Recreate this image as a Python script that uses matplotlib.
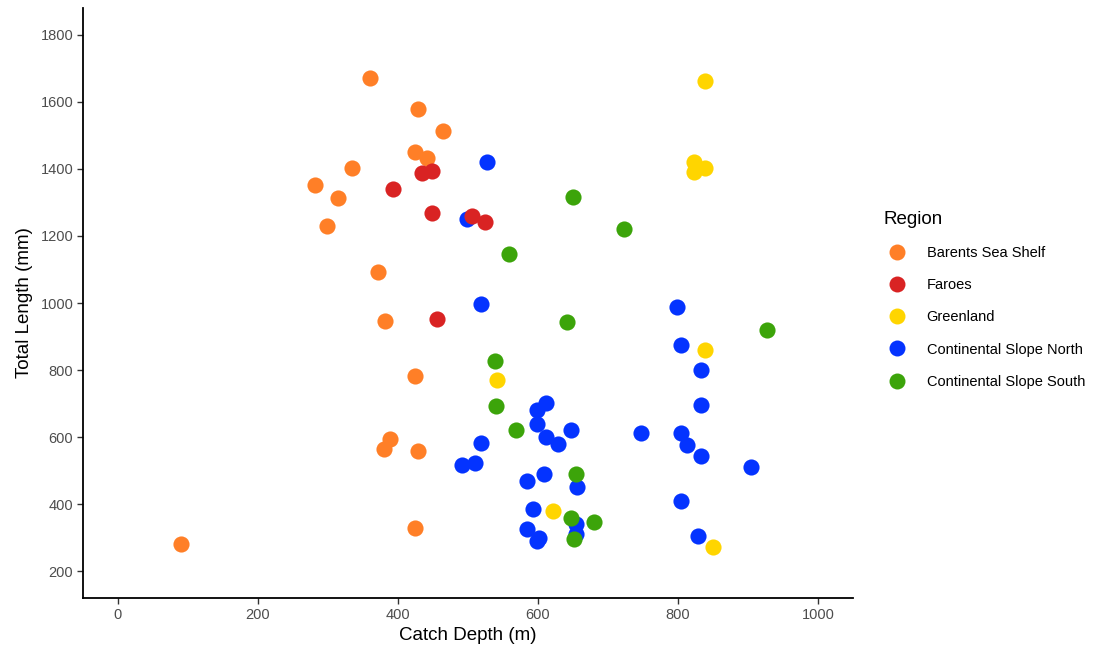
import matplotlib
matplotlib.use("Agg")
import matplotlib.pyplot as plt
from matplotlib.lines import Line2D

plt.rcParams['font.family'] = ['Liberation Sans', 'DejaVu Sans']

# Catch depth (m) and total length (mm) per region
barents_depth = [360, 429, 465, 425, 442, 335, 281, 315, 298, 371, 381, 425, 388, 380, 428, 424, 90]
barents_length = [1670, 1580, 1512, 1450, 1432, 1402, 1352, 1312, 1231, 1093, 946, 781, 595, 565, 560, 330, 280]

faroes_depth = [434, 448, 393, 448, 506, 524, 456]
faroes_length = [1387, 1395, 1339, 1268, 1260, 1242, 953]

greenland_depth = [838, 823, 838, 823, 838, 541, 622, 850]
greenland_length = [1661, 1422, 1402, 1392, 861, 770, 380, 271]

csn_depth = [527, 498, 518, 799, 804, 833, 833, 612, 598, 598, 647, 612, 629, 747, 805, 813,
             833, 905, 518, 510, 492, 585, 609, 656, 805, 593, 654, 654, 585, 602, 598, 829]
csn_length = [1422, 1251, 996, 987, 875, 801, 696, 701, 681, 639, 621, 601, 578, 611, 611, 577,
              545, 512, 581, 524, 516, 470, 490, 450, 408, 386, 340, 312, 325, 300, 289, 304]

css_depth = [650, 723, 559, 642, 927, 539, 540, 569, 654, 647, 680, 651]
css_length = [1315, 1221, 1145, 944, 920, 827, 692, 621, 490, 360, 348, 296]

regions = ["Barents Sea Shelf", "Faroes", "Greenland", "Continental Slope North", "Continental Slope South"]
colors = {"Barents Sea Shelf": "#FF7F27", "Faroes": "#D92323", "Greenland": "#FFD500",
          "Continental Slope North": "#0433FF", "Continental Slope South": "#3CA40A"}
data = {"Barents Sea Shelf": (barents_depth, barents_length),
        "Faroes": (faroes_depth, faroes_length),
        "Greenland": (greenland_depth, greenland_length),
        "Continental Slope North": (csn_depth, csn_length),
        "Continental Slope South": (css_depth, css_length)}

fig = plt.figure(figsize=(11.05, 6.5), dpi=100)
ax = fig.add_axes([83 / 1105, 1 - 598 / 650, (853 - 83) / 1105, (598 - 8) / 650])

draw_order = ["Barents Sea Shelf", "Continental Slope North", "Continental Slope South", "Greenland", "Faroes"]
for reg in draw_order:
    x, y = data[reg]
    ax.scatter(x, y, s=135, color=colors[reg], linewidths=0, zorder=3)

ax.set_xlim(-50, 1050)
ax.set_ylim(120, 1880)
ax.set_xticks([0, 200, 400, 600, 800, 1000])
ax.set_yticks([200, 400, 600, 800, 1000, 1200, 1400, 1600, 1800])

for side in ["top", "right"]:
    ax.spines[side].set_visible(False)
for side in ["left", "bottom"]:
    ax.spines[side].set_linewidth(1.3)
    ax.spines[side].set_color("black")
ax.tick_params(axis="both", length=4, width=1.0, color="#333333", labelcolor="#4D4D4D",
               labelsize=10.5, pad=3)

ax.set_xlabel("Catch Depth (m)", fontsize=13.5, color="black", labelpad=4)
ax.set_ylabel("Total Length (mm)", fontsize=13.5, color="black", labelpad=5)

handles = [Line2D([0], [0], marker="o", linestyle="", markersize=11.5,
                  markerfacecolor=colors[r], markeredgewidth=0) for r in regions]
leg = fig.legend(handles, regions, loc="upper left", bbox_to_anchor=(872 / 1105, 1 - 199 / 650),
                 frameon=False, title="Region", title_fontsize=13.5, fontsize=10.5,
                 alignment="left", labelspacing=1.25, handletextpad=1.16, handlelength=1.78,
                 borderpad=0.3)

fig.savefig("out.png", dpi=100)
